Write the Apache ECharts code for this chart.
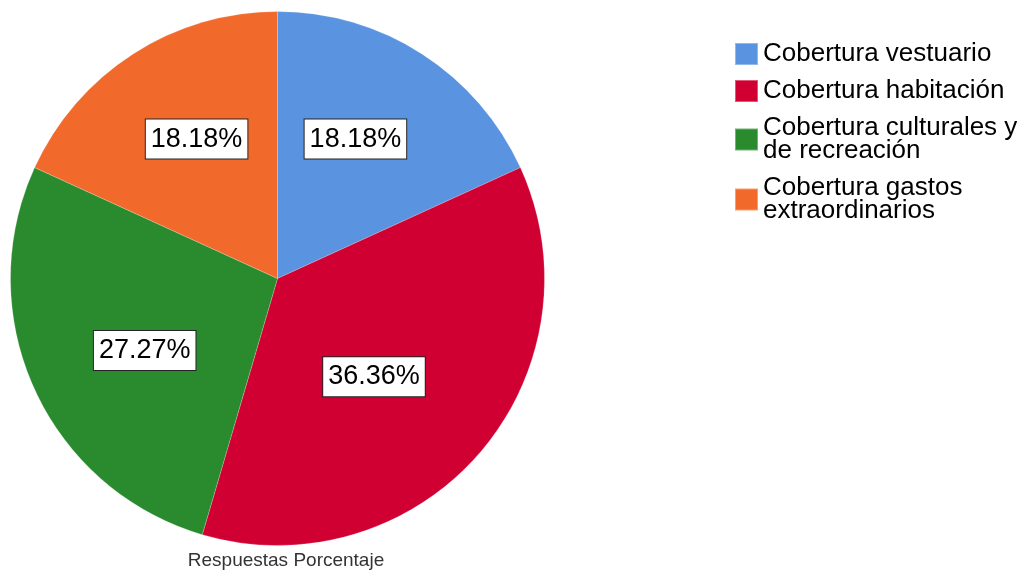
<!DOCTYPE html>
<html>
<head>
<meta charset="utf-8">
<script src="https://cdn.jsdelivr.net/npm/echarts@6/dist/echarts.min.js"></script>
<style>html,body{margin:0;padding:0;background:#fff;}#c{width:1023px;height:572px;}</style>
</head>
<body>
<div id="c"></div>
<script>
const categories = ['Cobertura vestuario', 'Cobertura habitación', 'Cobertura culturales y de recreación', 'Cobertura gastos extraordinarios'];
const legendLabels = ['Cobertura vestuario', 'Cobertura habitación', 'Cobertura culturales y\nde recreación', 'Cobertura gastos\nextraordinarios'];
const percentages = [18.18, 36.36, 27.27, 18.18];
const colors = ['#5a93e0', '#d10032', '#2a8a2e', '#f26a2b'];
const axisTitle = 'Respuestas Porcentaje';

const data = categories.map((n, i) => ({ name: n, value: percentages[i], itemStyle: { color: colors[i] } }));
const labelNudge = [[-4, -12], [-18, -1], [5, 9], [1, -12]];
const chart = echarts.init(document.getElementById('c'), null, { renderer: 'canvas' });
chart.setOption({
  backgroundColor: '#ffffff',
  animation: false,
  title: {
    text: axisTitle, left: 281, top: 546, textAlign: 'center',
    textStyle: { fontFamily: 'Liberation Sans, Arial', fontSize: 19, fontWeight: 'normal', color: '#333' }
  },
  legend: {
    orient: 'vertical', left: 729, top: 36, itemWidth: 23, itemHeight: 22, itemGap: 11,
    icon: 'rect', selectedMode: false,
    data: categories,
    formatter: n => legendLabels[categories.indexOf(n)],
    textStyle: { fontFamily: 'Liberation Sans, Arial', fontSize: 26, lineHeight: 23, color: '#000' }
  },
  series: [
    {
      type: 'pie', center: [277.5, 278.5], radius: [0, 267], startAngle: 90, clockwise: true,
      data: data, label: { show: false }, labelLine: { show: false }, silent: true,
      itemStyle: { borderColor: 'rgba(255,255,255,0.35)', borderWidth: 0.6 }
    },
    {
      type: 'pie', center: [277.5, 278.5], radius: [30, 267], startAngle: 90, clockwise: true,
      data: data.map(d => ({ name: d.name, value: d.value, itemStyle: { color: 'rgba(0,0,0,0)' } })),
      silent: true, labelLine: { show: false },
      itemStyle: { borderWidth: 0 },
      labelLayout: p => ({ dx: labelNudge[p.dataIndex][0], dy: labelNudge[p.dataIndex][1] }),
      label: {
        show: true, position: 'inside',
        formatter: p => percentages[p.dataIndex].toFixed(2) + '%',
        fontFamily: 'Liberation Sans, Arial', fontSize: 27, color: '#000',
        backgroundColor: '#fff', borderColor: '#222', borderWidth: 1, padding: [7, 5, 5, 5]
      }
    }
  ]
});
</script>
</body>
</html>
